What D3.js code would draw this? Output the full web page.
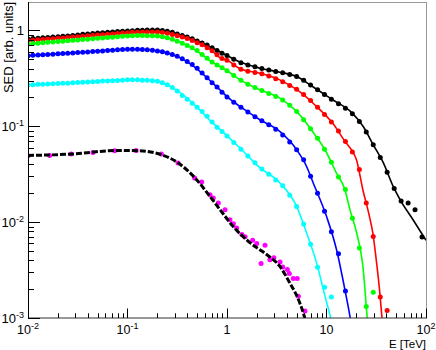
<!DOCTYPE html>
<html>
<head>
<meta charset="utf-8">
<script src="https://cdn.jsdelivr.net/npm/d3@7"></script>
<style>
body { margin: 0; background: #fff; }
svg { display: block; }
text { font-family: "Liberation Sans", Arial, sans-serif; fill: #000; }
</style>
</head>
<body>
<svg id="chart" width="436" height="350"></svg>
<script>
// energy grid of the measured points [TeV]
const energy = [0.0100,0.0112,0.0126,0.0141,0.0158,0.0178,0.0200,0.0224,0.0251,0.0282,
    0.0316,0.0355,0.0398,0.0447,0.0501,0.0562,0.0631,0.0708,0.0794,0.0891,
    0.100,0.112,0.126,0.141,0.158,0.178,0.200,0.224,0.251,0.282,
    0.316,0.355,0.398,0.447,0.501,0.562,0.631,0.708,0.794,0.891,
    1.00,1.17,1.38,1.62,1.91,2.24,2.63,3.09,3.63,4.27,
    5.01,5.89,6.92,8.13,9.55,11.2,13.2,15.5,18.2,21.4,
    25.1,29.5,34.7,40.7,47.9,56.2,66.1,77.6,91.2]

const sedBlack = [0.815,0.822,0.830,0.838,0.845,0.853,0.861,0.869,0.877,0.887,
    0.897,0.910,0.920,0.931,0.940,0.948,0.957,0.966,0.975,0.982,
    0.989,0.995,1.002,1.007,1.009,1.012,1.009,1.000,0.982,0.955,
    0.918,0.887,0.855,0.818,0.776,0.741,0.705,0.661,0.617,0.578,
    0.547,0.501,0.459,0.437,0.417,0.400,0.387,0.374,0.361,0.348,
    0.330,0.302,0.269,0.240,0.215,0.192,0.172,0.154,0.135,0.112,
    0.0871,0.0641,0.0473,0.0331,0.0224,0.0166,0.0158,0.0135,0.0070]

const sedRed = [0.783,0.791,0.798,0.805,0.813,0.820,0.828,0.836,0.845,0.853,
    0.861,0.871,0.879,0.887,0.895,0.904,0.912,0.920,0.931,0.940,
    0.948,0.955,0.959,0.962,0.964,0.964,0.962,0.951,0.933,0.908,
    0.881,0.855,0.822,0.785,0.746,0.708,0.661,0.614,0.556,0.511,
    0.490,0.437,0.394,0.376,0.365,0.353,0.335,0.313,0.292,0.266,
    0.243,0.214,0.186,0.158,0.133,0.111,0.0891,0.0692,0.0540,0.0355,
    0.0158,0.00708,0.00166,0.00120]

const sedGreen = [0.723,0.730,0.736,0.745,0.752,0.759,0.766,0.773,0.782,0.789,
    0.796,0.804,0.811,0.820,0.828,0.836,0.843,0.851,0.861,0.869,
    0.877,0.881,0.883,0.883,0.881,0.879,0.873,0.859,0.838,0.809,
    0.773,0.735,0.698,0.661,0.617,0.562,0.513,0.468,0.437,0.407,
    0.380,0.339,0.302,0.275,0.254,0.236,0.220,0.205,0.188,0.166,
    0.143,0.117,0.0944,0.0750,0.0575,0.0422,0.0295,0.0219,0.0110,0.00537,
    0.00132,0.00186]

const sedBlue = [0.546,0.550,0.553,0.557,0.562,0.566,0.570,0.574,0.578,0.583,
    0.587,0.593,0.597,0.603,0.607,0.612,0.617,0.622,0.627,0.632,
    0.637,0.637,0.635,0.632,0.628,0.621,0.612,0.600,0.581,0.560,
    0.537,0.507,0.473,0.442,0.403,0.359,0.320,0.285,0.257,0.226,
    0.202,0.178,0.158,0.141,0.126,0.114,0.104,0.0933,0.0813,0.0684,
    0.0569,0.0447,0.0302,0.0200,0.0130,0.00794,0.00468,0.00191]

const sedCyan = [0.270,0.272,0.274,0.275,0.277,0.278,0.279,0.281,0.282,0.284,
    0.286,0.288,0.290,0.292,0.294,0.296,0.297,0.299,0.301,0.303,
    0.305,0.305,0.305,0.303,0.302,0.299,0.295,0.285,0.272,0.254,
    0.234,0.209,0.191,0.174,0.158,0.143,0.127,0.111,0.0977,0.0881,
    0.0794,0.0676,0.0575,0.0490,0.0417,0.0359,0.0316,0.0275,0.0240,0.0191,
    0.0146,0.00955,0.00589,0.00339,0.00209,0.00166]

// lowest spectrum, own energies
const magentaE = [0.0100,0.0165,0.0272,0.0450,0.0743,0.122,0.219,0.322,0.473,0.557,
    0.675,0.728,0.818,0.955,1.07,1.16,1.25,1.41,1.52,1.81,
    1.99,2.20,2.41,2.70,2.96,3.41,3.63,4.04,4.23,4.63,
    5.08,5.21,6.08]
const magentaSED = [0.0493,0.0497,0.0513,0.0533,0.0556,0.0560,0.0513,0.0414,0.0288,0.0262,
    0.0193,0.0179,0.0158,0.0135,0.0106,0.00964,0.00871,0.00741,0.00702,0.00646,
    0.00597,0.00370,0.00573,0.00406,0.00424,0.00385,0.00341,0.00320,0.00291,0.00258,
    0.00258,0.00169,0.00118]

// model curves [E, SED]
const fitBlack = [[0.01,0.815],[0.0251,0.877],[0.0468,0.935],[0.1,0.989],[0.186,1.012],[0.251,0.982],
    [0.324,0.912],[0.479,0.796],[0.692,0.668],[1.0,0.547],[1.35,0.468],[2.14,0.404],[3.39,0.367],
    [5.01,0.330],[7.24,0.260],[11.5,0.189],[17.4,0.143],[23.4,0.0995],[29.5,0.0641],[37.2,0.0417],
    [46.8,0.0236],[55.0,0.0171],[74.1,0.0106],[100,0.00646]]
const fitRed = [[0.01,0.783],[0.0316,0.861],[0.1,0.948],[0.178,0.964],[0.251,0.933],[0.324,0.875],
    [0.479,0.764],[0.692,0.624],[0.851,0.519],[1.0,0.490],[1.35,0.398],[2.14,0.358],[3.39,0.305],
    [5.37,0.230],[7.94,0.161],[11.5,0.108],[15.8,0.0668],[17.8,0.0569],[20.0,0.0448],[23.2,0.0218],
    [27.0,0.0115],[29.2,0.00771],[31.6,0.00406],[34.1,0.00198],[36.0,0.00104],[37.2,0.00071]]
const fitGreen = [[0.01,0.723],[0.0316,0.796],[0.1,0.877],[0.141,0.883],[0.2,0.873],[0.282,0.809],
    [0.398,0.698],[0.537,0.578],[0.692,0.473],[0.851,0.420],[1.0,0.380],[1.35,0.305],[2.14,0.240],
    [3.39,0.197],[5.01,0.143],[7.24,0.0883],[9.66,0.0569],[12.6,0.0324],[15.3,0.0219],[17.2,0.0135],
    [20.1,0.00771],[23.4,0.00320],[25.4,0.00113],[26.3,0.00071]]
const fitBlue = [[0.01,0.546],[0.0316,0.587],[0.1,0.637],[0.141,0.632],[0.2,0.612],[0.282,0.560],
    [0.398,0.473],[0.537,0.372],[0.692,0.293],[0.851,0.240],[1.0,0.204],[1.35,0.161],[2.14,0.117],
    [3.39,0.0883],[5.01,0.0569],[6.31,0.0381],[7.36,0.0256],[10.0,0.0115],[12.6,0.00518],
    [15.3,0.00198],[17.2,0.00104],[18.2,0.00071]]
const fitCyan = [[0.01,0.270],[0.0316,0.286],[0.1,0.305],[0.158,0.302],[0.224,0.285],[0.324,0.231],
    [0.473,0.167],[0.695,0.112],[1.0,0.0794],[1.35,0.0593],[2.14,0.0370],[3.39,0.0258],[5.01,0.0146],
    [6.31,0.00771],[7.94,0.00376],[9.66,0.00169],[11.0,0.00100],[11.5,0.00079]]
const fitLow = [[0.01,0.0497],[0.0275,0.0513],[0.0794,0.0560],[0.129,0.0556],[0.219,0.0505],
    [0.324,0.0414],[0.479,0.0288],[0.692,0.0179],[0.851,0.0135],[1.15,0.00904],[1.70,0.00611],
    [2.51,0.00458],[3.39,0.00347],[4.27,0.00233],[5.37,0.00145],[6.03,0.00101],[6.31,0.00083]]

const xTickValues = [0.01, 0.1, 1, 10, 100]
const xTickText = ['10^-2', '10^-1', '1', '10', '10^2']
const yTickValues = [0.001, 0.01, 0.1, 1]
const yTickText = ['10^-3', '10^-2', '10^-1', '1']

const series = [
    {color: '#000000', sed: sedBlack, fit: fitBlack},
    {color: '#ff0000', sed: sedRed, fit: fitRed},
    {color: '#00ff00', sed: sedGreen, fit: fitGreen},
    {color: '#0000ff', sed: sedBlue, fit: fitBlue},
    {color: '#00ffff', sed: sedCyan, fit: fitCyan}
]

let svg = d3.select('#chart')
let fLeft = 28, fRight = 426, fTop = 2, fBottom = 318

let x = d3.scaleLog().domain([0.01, 100]).range([fLeft, fRight])
let y = d3.scaleLog().domain([0.001, 1.98]).range([fBottom, fTop])

svg.append('clipPath').attr('id', 'frame')
    .append('rect')
    .attr('x', fLeft).attr('y', fTop)
    .attr('width', fRight - fLeft).attr('height', fBottom - fTop)

let plot = svg.append('g').attr('clip-path', 'url(#frame)')

let line = d3.line()
    .x(d => x(d[0]))
    .y(d => y(d[1]))
    .curve(d3.curveMonotoneX)

series.forEach(s => {
    plot.append('path')
        .attr('d', line(s.fit))
        .attr('fill', 'none')
        .attr('stroke', s.color)
        .attr('stroke-width', 1.6)
    plot.selectAll(null)
        .data(s.sed)
        .enter().append('circle')
        .attr('cx', (d, i) => x(energy[i]))
        .attr('cy', d => y(d))
        .attr('r', 2.5)
        .attr('fill', s.color)
})

plot.selectAll(null)
    .data(magentaSED)
    .enter().append('circle')
    .attr('cx', (d, i) => x(magentaE[i]))
    .attr('cy', d => y(d))
    .attr('r', 2.5)
    .attr('fill', '#ff00ff')

plot.append('path')
    .attr('d', line(fitLow))
    .attr('fill', 'none')
    .attr('stroke', '#000')
    .attr('stroke-width', 3)
    .attr('stroke-dasharray', '6,2')

// frame
let frame = svg.append('g')
frame.append('line').attr('x1', fLeft).attr('x2', fRight).attr('y1', fTop + 0.5).attr('y2', fTop + 0.5)
    .attr('stroke', '#999')
frame.append('line').attr('x1', fRight + 0.5).attr('x2', fRight + 0.5).attr('y1', fTop).attr('y2', fBottom)
    .attr('stroke', '#999')
frame.append('line').attr('x1', fLeft).attr('x2', fRight + 1).attr('y1', fBottom).attr('y2', fBottom)
    .attr('stroke', '#333')
frame.append('line').attr('x1', fLeft + 0.5).attr('x2', fLeft + 0.5).attr('y1', fTop).attr('y2', fBottom + 1)
    .attr('stroke', '#000')

let isDecade = v => Math.abs(Math.log10(v) - Math.round(Math.log10(v))) < 1e-6

// ticks point into the frame
frame.selectAll('.xtick')
    .data(x.ticks())
    .enter().append('line')
    .attr('class', 'xtick')
    .attr('x1', d => Math.round(x(d)) + 0.5).attr('x2', d => Math.round(x(d)) + 0.5)
    .attr('y1', fBottom).attr('y2', d => fBottom - (isDecade(d) ? 9.5 : 4.7))
    .attr('stroke', '#000')

frame.selectAll('.ytick')
    .data(y.ticks())
    .enter().append('line')
    .attr('class', 'ytick')
    .attr('y1', d => Math.round(y(d)) + 0.5).attr('y2', d => Math.round(y(d)) + 0.5)
    .attr('x1', fLeft).attr('x2', d => fLeft + (isDecade(d) ? 12 : 6))
    .attr('stroke', '#000')

function power(sel, str) {
    let parts = str.split('^')
    sel.append('tspan').text(parts[0])
    if (parts[1]) {
        sel.append('tspan').attr('dy', -5).attr('font-size', 9).text(parts[1])
    }
}

svg.selectAll('.xlabel')
    .data(xTickValues)
    .enter().append('text')
    .attr('class', 'xlabel')
    .attr('x', d => x(d))
    .attr('y', 334)
    .attr('text-anchor', 'middle')
    .attr('font-size', 12.5)
    .each(function(d, i) { power(d3.select(this), xTickText[i]) })

svg.selectAll('.ylabel')
    .data(yTickValues)
    .enter().append('text')
    .attr('class', 'ylabel')
    .attr('x', 24)
    .attr('y', d => y(d) + 5)
    .attr('text-anchor', 'end')
    .attr('font-size', 13)
    .each(function(d, i) { power(d3.select(this), yTickText[i]) })

svg.append('text')
    .attr('x', fRight)
    .attr('y', 347.5)
    .attr('text-anchor', 'end')
    .attr('font-size', 11.5)
    .text('E [TeV]')

svg.append('text')
    .attr('transform', `translate(12.5, ${fTop}) rotate(-90)`)
    .attr('text-anchor', 'end')
    .attr('font-size', 13)
    .text('SED [arb. units]')
</script>
</body>
</html>
